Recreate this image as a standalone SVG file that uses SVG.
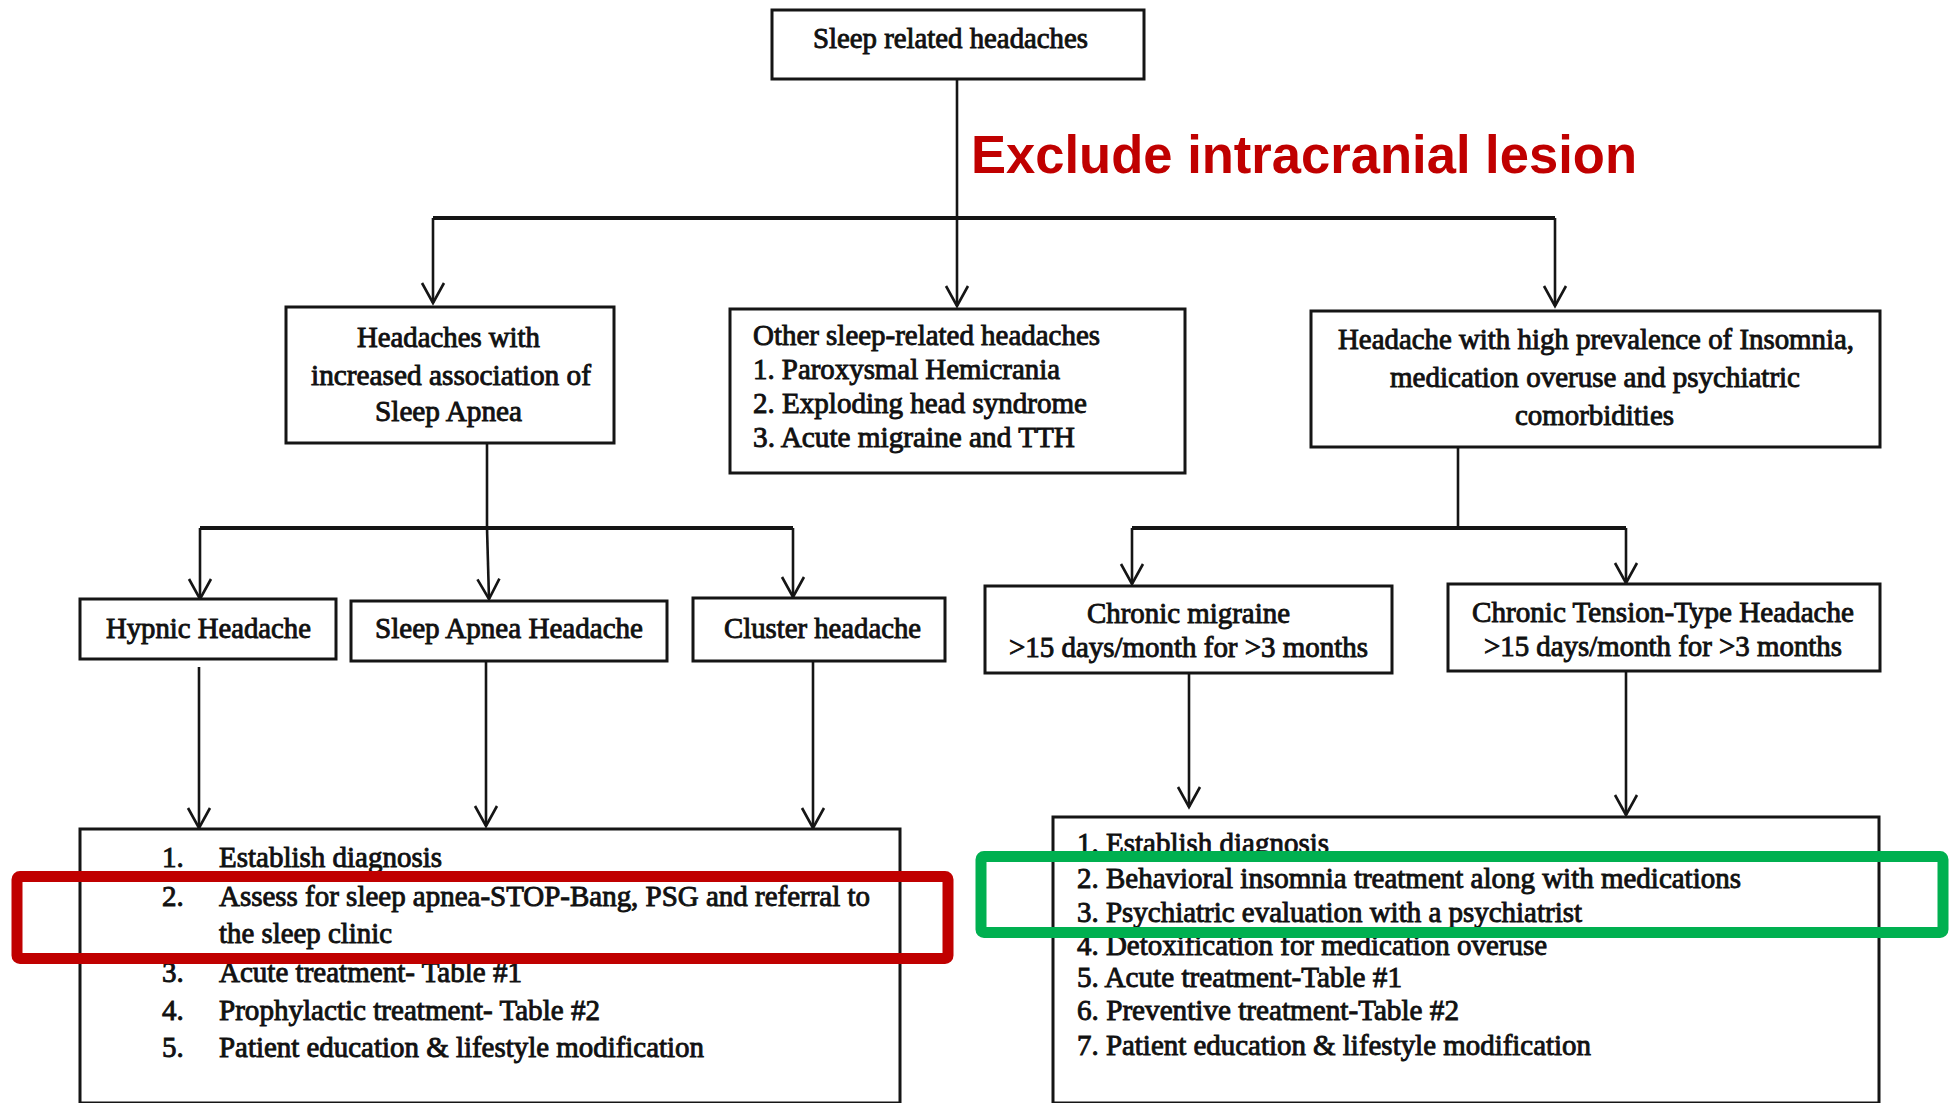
<svg xmlns="http://www.w3.org/2000/svg" width="1950" height="1103" viewBox="0 0 1950 1103">
<style>
.box{fill:#fff;stroke:#151515;stroke-width:3}
.t{font-family:"Liberation Serif","Times New Roman",serif;font-size:29px;fill:#111;stroke:#111;stroke-width:0.9}
.c{fill:none;stroke:#151515;stroke-width:2.6}
.bus{fill:none;stroke:#151515;stroke-width:4}
.ttl{font-family:"Liberation Sans",Arial,sans-serif;font-weight:bold;font-size:53px;fill:#C00000}
</style>
<defs>
<marker id="ah" markerUnits="userSpaceOnUse" markerWidth="26" markerHeight="28" viewBox="-23 -14 26 28" refX="0" refY="0" orient="auto">
<path d="M-20,-11 L0,0 L-20,11" fill="none" stroke="#151515" stroke-width="2.6"/>
</marker>
</defs>
<rect x="0" y="0" width="1950" height="1103" fill="#fff"/>

<g id="connectors">
<line class="c" x1="957" y1="79" x2="957" y2="218"/>
<line class="bus" x1="433" y1="218" x2="1555" y2="218"/>
<line class="c" x1="433" y1="218" x2="433" y2="303" marker-end="url(#ah)"/>
<line class="c" x1="957" y1="218" x2="957" y2="306" marker-end="url(#ah)"/>
<line class="c" x1="1555" y1="218" x2="1555" y2="306" marker-end="url(#ah)"/>
<line class="c" x1="487" y1="443" x2="487" y2="528"/>
<line class="bus" x1="200" y1="528" x2="793" y2="528"/>
<line class="c" x1="200" y1="528" x2="200" y2="599" marker-end="url(#ah)"/>
<line class="c" x1="487" y1="528" x2="489" y2="599" marker-end="url(#ah)"/>
<line class="c" x1="793" y1="528" x2="793" y2="597" marker-end="url(#ah)"/>
<line class="c" x1="1458" y1="447" x2="1458" y2="528"/>
<line class="bus" x1="1132" y1="528" x2="1626" y2="528"/>
<line class="c" x1="1132" y1="528" x2="1132" y2="584" marker-end="url(#ah)"/>
<line class="c" x1="1626" y1="528" x2="1626" y2="583" marker-end="url(#ah)"/>
<line class="c" x1="199" y1="667" x2="199" y2="828" marker-end="url(#ah)"/>
<line class="c" x1="486" y1="661" x2="486" y2="826" marker-end="url(#ah)"/>
<line class="c" x1="813" y1="661" x2="813" y2="828" marker-end="url(#ah)"/>
<line class="c" x1="1189" y1="673" x2="1189" y2="807" marker-end="url(#ah)"/>
<line class="c" x1="1626" y1="671" x2="1626" y2="815" marker-end="url(#ah)"/>
</g>

<g id="root">
<rect class="box" x="772" y="10" width="372" height="69"/>
<text class="t" x="813" y="48" textLength="275" lengthAdjust="spacingAndGlyphs">Sleep related headaches</text>
</g>

<text class="ttl" x="971" y="173" textLength="666" lengthAdjust="spacingAndGlyphs">Exclude intracranial lesion</text>

<g id="sleep-apnea-group">
<rect class="box" x="286" y="307" width="328" height="136"/>
<text class="t" x="357" y="347" textLength="183" lengthAdjust="spacingAndGlyphs">Headaches with</text>
<text class="t" x="311" y="385" textLength="280" lengthAdjust="spacingAndGlyphs">increased association of</text>
<text class="t" x="375" y="421" textLength="147" lengthAdjust="spacingAndGlyphs">Sleep Apnea</text>
</g>

<g id="other">
<rect class="box" x="730" y="309" width="455" height="164"/>
<text class="t" x="753" y="345" textLength="347" lengthAdjust="spacingAndGlyphs">Other sleep-related headaches</text>
<text class="t" x="753" y="379" textLength="307" lengthAdjust="spacingAndGlyphs">1. Paroxysmal Hemicrania</text>
<text class="t" x="753" y="413" textLength="334" lengthAdjust="spacingAndGlyphs">2. Exploding head syndrome</text>
<text class="t" x="753" y="447" textLength="322" lengthAdjust="spacingAndGlyphs">3. Acute migraine and TTH</text>
</g>

<g id="insomnia-group">
<rect class="box" x="1311" y="311" width="569" height="136"/>
<text class="t" x="1338" y="349" textLength="516" lengthAdjust="spacingAndGlyphs">Headache with high prevalence of Insomnia,</text>
<text class="t" x="1390" y="387" textLength="410" lengthAdjust="spacingAndGlyphs">medication overuse and psychiatric</text>
<text class="t" x="1515" y="425" textLength="159" lengthAdjust="spacingAndGlyphs">comorbidities</text>
</g>

<g id="hypnic">
<rect class="box" x="80" y="599" width="256" height="60"/>
<text class="t" x="106" y="638" textLength="205" lengthAdjust="spacingAndGlyphs">Hypnic Headache</text>
</g>

<g id="sleep-apnea-headache">
<rect class="box" x="351" y="601" width="316" height="60"/>
<text class="t" x="375" y="638" textLength="268" lengthAdjust="spacingAndGlyphs">Sleep Apnea Headache</text>
</g>

<g id="cluster">
<rect class="box" x="693" y="598" width="252" height="63"/>
<text class="t" x="724" y="638" textLength="197" lengthAdjust="spacingAndGlyphs">Cluster headache</text>
</g>

<g id="chronic-migraine">
<rect class="box" x="985" y="586" width="407" height="87"/>
<text class="t" x="1087" y="623" textLength="203" lengthAdjust="spacingAndGlyphs">Chronic migraine</text>
<text class="t" x="1009" y="657" textLength="359" lengthAdjust="spacingAndGlyphs">&gt;15 days/month for &gt;3 months</text>
</g>

<g id="ctth">
<rect class="box" x="1448" y="584" width="432" height="87"/>
<text class="t" x="1472" y="622" textLength="382" lengthAdjust="spacingAndGlyphs">Chronic Tension-Type Headache</text>
<text class="t" x="1484" y="656" textLength="358" lengthAdjust="spacingAndGlyphs">&gt;15 days/month for &gt;3 months</text>
</g>

<g id="management-left">
<rect class="box" x="80" y="829" width="820" height="274"/>
<text class="t" x="162" y="867">1.</text>
<text class="t" x="219" y="867" textLength="223" lengthAdjust="spacingAndGlyphs">Establish diagnosis</text>
<text class="t" x="162" y="906">2.</text>
<text class="t" x="219" y="906" textLength="651" lengthAdjust="spacingAndGlyphs">Assess for sleep apnea-STOP-Bang, PSG and referral to</text>
<text class="t" x="219" y="943" textLength="173" lengthAdjust="spacingAndGlyphs">the sleep clinic</text>
<text class="t" x="162" y="982">3.</text>
<text class="t" x="219" y="982" textLength="303" lengthAdjust="spacingAndGlyphs">Acute treatment- Table #1</text>
<text class="t" x="162" y="1020">4.</text>
<text class="t" x="219" y="1020" textLength="381" lengthAdjust="spacingAndGlyphs">Prophylactic treatment- Table #2</text>
<text class="t" x="162" y="1057">5.</text>
<text class="t" x="219" y="1057" textLength="485" lengthAdjust="spacingAndGlyphs">Patient education &amp; lifestyle modification</text>
</g>

<g id="management-right">
<rect class="box" x="1053" y="817" width="826" height="286"/>
<text class="t" x="1077" y="853" textLength="252" lengthAdjust="spacingAndGlyphs">1. Establish diagnosis</text>
<text class="t" x="1077" y="888" textLength="664" lengthAdjust="spacingAndGlyphs">2. Behavioral insomnia treatment along with medications</text>
<text class="t" x="1077" y="922" textLength="505" lengthAdjust="spacingAndGlyphs">3. Psychiatric evaluation with a psychiatrist</text>
<text class="t" x="1077" y="955" textLength="470" lengthAdjust="spacingAndGlyphs">4. Detoxification for medication overuse</text>
<text class="t" x="1077" y="987" textLength="325" lengthAdjust="spacingAndGlyphs">5. Acute treatment-Table #1</text>
<text class="t" x="1077" y="1020" textLength="382" lengthAdjust="spacingAndGlyphs">6. Preventive treatment-Table #2</text>
<text class="t" x="1077" y="1055" textLength="514" lengthAdjust="spacingAndGlyphs">7. Patient education &amp; lifestyle modification</text>
</g>

<g id="highlights">
<rect x="17" y="876.5" width="931" height="82" rx="3" fill="none" stroke="#C00000" stroke-width="11"/>
<rect x="981" y="856.5" width="962" height="76" rx="3" fill="none" stroke="#00B050" stroke-width="11"/>
</g>
</svg>
